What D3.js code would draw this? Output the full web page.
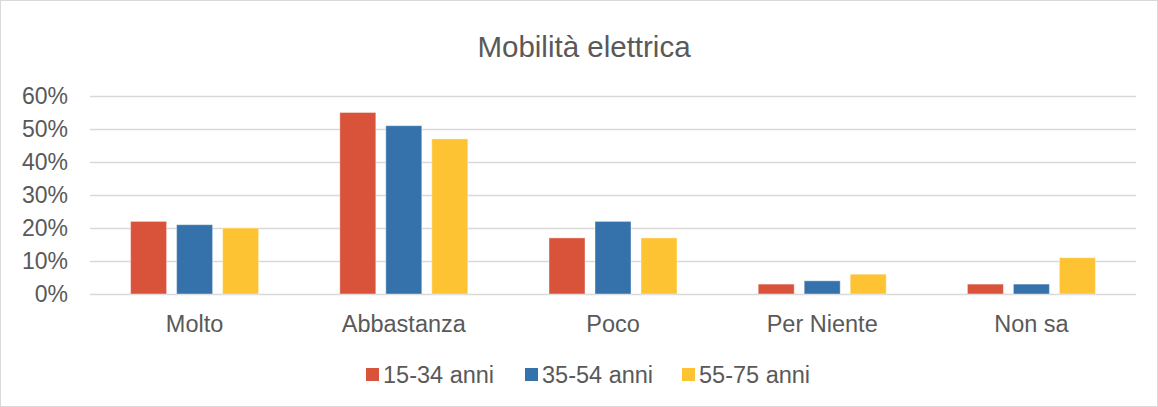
<!DOCTYPE html>
<html>
<head>
<meta charset="utf-8">
<script src="https://cdn.jsdelivr.net/npm/d3@7"></script>
<style>
  body { margin: 0; background: #fff; }
  svg { font-family: "Liberation Sans", Arial, sans-serif; display: block; }
</style>
</head>
<body>
<div id="chart"></div>
<script>
const width = 1158;
const height = 407;

const categories = ["Molto", "Abbastanza", "Poco", "Per Niente", "Non sa"];
const seriesNames = ["15-34 anni", "35-54 anni", "55-75 anni"];
const young = [0.22, 0.55, 0.17, 0.03, 0.03];
const middle = [0.21, 0.51, 0.22, 0.04, 0.03];
const senior = [0.20, 0.47, 0.17, 0.06, 0.11];
const yTicks = [0, 0.1, 0.2, 0.3, 0.4, 0.5, 0.6];
const colors = ["#D9533B", "#3572AB", "#FEC333"];

const seriesValues = [young, middle, senior];
const rows = categories.map((c, i) => ({
  category: c,
  values: seriesNames.map((s, j) => ({series: s, value: seriesValues[j][i]}))
}));

const margin = {top: 96, right: 22, bottom: 113, left: 90};

const svg = d3.select('#chart')
  .append('svg')
  .attr('width', width)
  .attr('height', height);

svg.append('rect')
  .attr('x', 0.5).attr('y', 0.5)
  .attr('width', width - 1).attr('height', height - 1)
  .attr('fill', '#fff')
  .attr('stroke', '#d9d9d9');

const x0 = d3.scaleBand()
  .domain(categories)
  .range([margin.left, width - margin.right]);

const groupW = 128;
const x1 = d3.scaleBand()
  .domain(seriesNames)
  .range([(x0.bandwidth() - groupW) / 2, (x0.bandwidth() + groupW) / 2])
  .paddingInner(0.2174);

const y = d3.scaleLinear()
  .domain([0, 0.6])
  .range([height - margin.bottom, margin.top]);

const color = d3.scaleOrdinal().domain(seriesNames).range(colors);

// gridlines
svg.append('g')
  .selectAll('line')
  .data(yTicks)
  .join('line')
  .attr('x1', margin.left)
  .attr('x2', width - margin.right)
  .attr('y1', d => Math.round(y(d)) + 0.5)
  .attr('y2', d => Math.round(y(d)) + 0.5)
  .attr('stroke', '#d9d9d9')
  .attr('stroke-width', 1.5);

// y labels
svg.append('g')
  .selectAll('text')
  .data(yTicks)
  .join('text')
  .attr('x', 68)
  .attr('y', d => y(d))
  .attr('dy', '0.35em')
  .attr('text-anchor', 'end')
  .attr('font-size', '23px')
  .attr('fill', '#595959')
  .text(d => d3.format('.0%')(d));

// bars
const group = svg.append('g')
  .selectAll('g')
  .data(rows)
  .join('g')
  .attr('transform', d => `translate(${x0(d.category)},0)`);

group.selectAll('rect')
  .data(d => d.values)
  .join('rect')
  .attr('x', d => x1(d.series))
  .attr('y', d => y(d.value))
  .attr('width', x1.bandwidth())
  .attr('height', d => y(0) - y(d.value))
  .attr('fill', d => color(d.series))
  .attr('stroke', '#fff')
  .attr('stroke-opacity', 0.4)
  .attr('stroke-width', 1);

// category labels
svg.append('g')
  .selectAll('text')
  .data(categories)
  .join('text')
  .attr('x', d => x0(d) + x0.bandwidth() / 2)
  .attr('y', 332)
  .attr('text-anchor', 'middle')
  .attr('font-size', '23.5px')
  .attr('fill', '#595959')
  .text(d => d);

// title
svg.append('text')
  .attr('x', 584)
  .attr('y', 57)
  .attr('text-anchor', 'middle')
  .attr('font-size', '29.5px')
  .attr('fill', '#595959')
  .text('Mobilità elettrica');

// legend
const legendX = [366, 525, 682];
const legend = svg.append('g')
  .selectAll('g')
  .data(seriesNames)
  .join('g')
  .attr('transform', (d, i) => `translate(${legendX[i]},368)`);

legend.append('rect')
  .attr('width', 13)
  .attr('height', 13)
  .attr('fill', d => color(d));

legend.append('text')
  .attr('x', 17)
  .attr('y', 6.5)
  .attr('dy', '0.35em')
  .attr('font-size', '23.5px')
  .attr('fill', '#595959')
  .text(d => d);
</script>
</body>
</html>
